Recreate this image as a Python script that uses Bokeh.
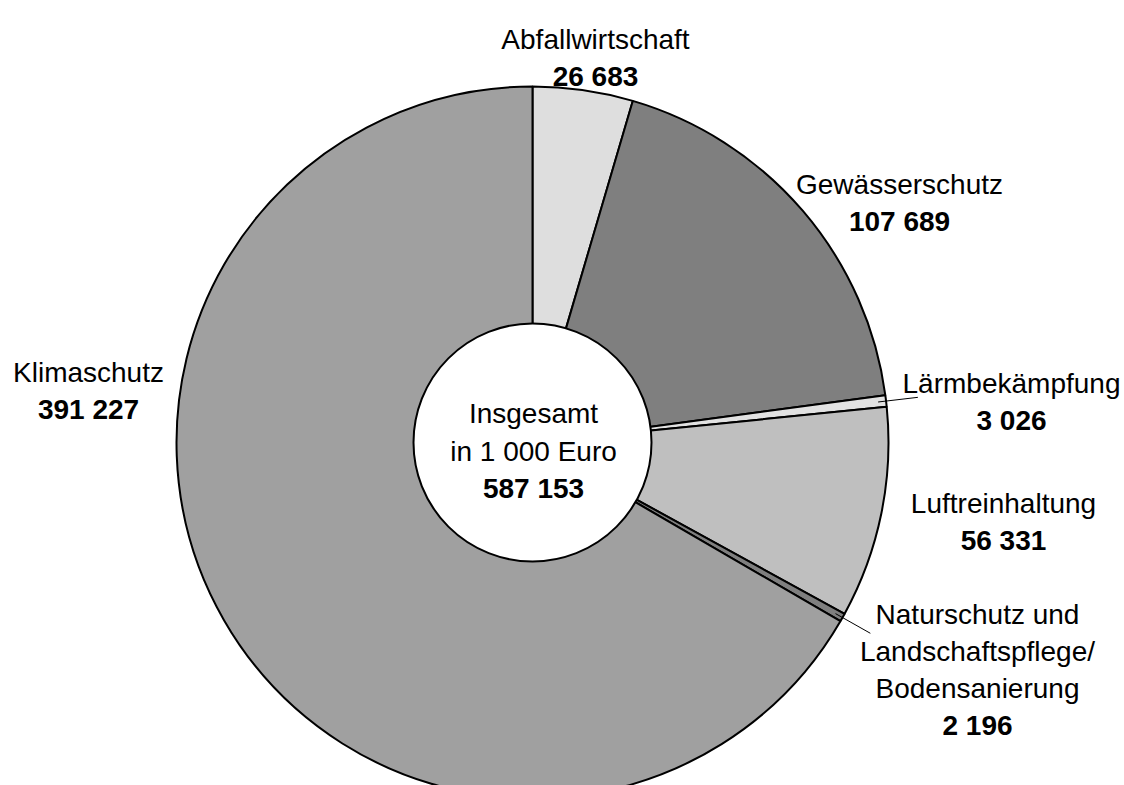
import numpy as np
from bokeh.plotting import figure
from bokeh.models import Range1d, ColumnDataSource
from bokeh.core.properties import value
from bokeh.embed import file_html
from bokeh.resources import INLINE

# ---- data ----
categories = ["Abfallwirtschaft", "Gewässerschutz", "Lärmbekämpfung",
              "Luftreinhaltung", "Naturschutz und Landschaftspflege/Bodensanierung",
              "Klimaschutz"]
label_lines = [["Abfallwirtschaft"], ["Gewässerschutz"], ["Lärmbekämpfung"],
               ["Luftreinhaltung"], ["Naturschutz und", "Landschaftspflege/", "Bodensanierung"],
               ["Klimaschutz"]]
values = [26683, 107689, 3026, 56331, 2196, 391227]
total_value = 587153
center_lines = ["Insgesamt", "in 1 000 Euro"]
colors = ["#dedede", "#7f7f7f", "#e2e2e2", "#bfbfbf", "#7f7f7f", "#a0a0a0"]

# ---- layout (screen-like coords, y = -pixel row) ----
W, H = 1124, 785
CX, CY = 532, -442
R_OUT, R_IN = 356, 119
FONT = value("Liberation Sans")
FS = "28px"
LH = 37
label_pos = [(595, 39), (899, 184), (1011, 383), (1003, 503), (977, 614), (88, 372)]
leader = [False, False, True, False, True, False]

p = figure(width=W, height=H, output_backend="svg", toolbar_location=None,
           x_range=Range1d(0, W), y_range=Range1d(-H, 0),
           min_border=0, outline_line_color=None)
p.axis.visible = False
p.grid.visible = False
p.background_fill_color = "white"

vals = np.array(values, dtype=float)
cum = np.concatenate([[0], np.cumsum(vals)])
tot = cum[-1]
start = np.pi / 2 - 2 * np.pi * cum[:-1] / tot
end = np.pi / 2 - 2 * np.pi * cum[1:] / tot

src = ColumnDataSource(dict(start=start, end=end, color=colors))
p.annular_wedge(x=CX, y=CY, inner_radius=R_IN - 5, outer_radius=R_OUT,
                start_angle="start", end_angle="end", direction="clock",
                fill_color="color", line_color="black", line_width=2, source=src)

p.circle(x=CX, y=CY, radius=R_IN, fill_color="white", line_color="black", line_width=2)

# leader lines for thin slices
mid = (start + end) / 2
for i in range(len(values)):
    if leader[i]:
        a = mid[i]
        r1, r2 = R_OUT - 8, R_OUT + 32
        p.line([CX + r1 * np.cos(a), CX + r2 * np.cos(a)],
               [CY + r1 * np.sin(a), CY + r2 * np.sin(a)],
               line_color="black", line_width=1)

def fmt(v):
    return f"{v:,}".replace(",", " ")

for i, lines in enumerate(label_lines):
    x0, y0 = label_pos[i]
    for j, t in enumerate(lines):
        p.text(x=[x0], y=[-(y0 + j * LH)], text=[t], text_font=FONT,
               text_font_size=FS, text_align="center", text_baseline="alphabetic",
               text_color="black")
    p.text(x=[x0], y=[-(y0 + len(lines) * LH)], text=[fmt(values[i])], text_font=FONT,
           text_font_size=FS, text_font_style="bold", text_align="center",
           text_baseline="alphabetic", text_color="black")

cx0, cy0 = 533, 413
for j, t in enumerate(center_lines):
    p.text(x=[cx0], y=[-(cy0 + j * 38)], text=[t], text_font=FONT, text_font_size=FS,
           text_align="center", text_baseline="alphabetic", text_color="black")
p.text(x=[cx0], y=[-(cy0 + 2 * 37.5)], text=[fmt(total_value)], text_font=FONT,
       text_font_size=FS, text_font_style="bold", text_align="center",
       text_baseline="alphabetic", text_color="black")

open("out.html", "w").write(file_html(p, INLINE))
